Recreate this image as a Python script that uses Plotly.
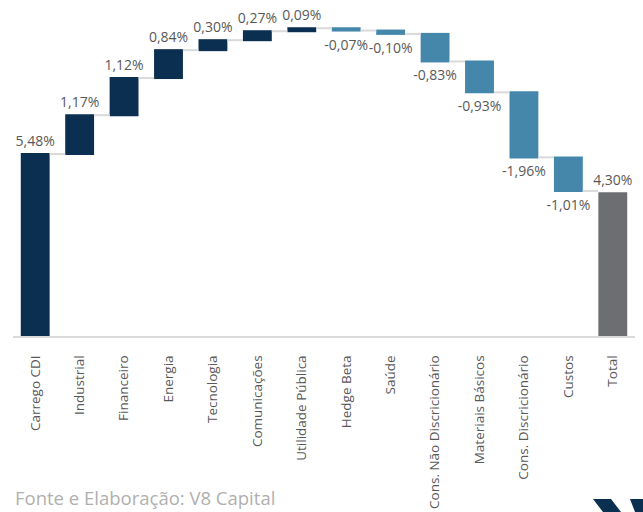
import plotly.graph_objects as go

categories = ["Carrego CDI", "Industrial", "Financeiro", "Energia", "Tecnologia",
              "Comunicações", "Utilidade Pública", "Hedge Beta", "Saúde",
              "Cons. Não Discricionário", "Materiais Básicos", "Cons. Discricionário",
              "Custos", "Total"]
values = [5.48, 1.17, 1.12, 0.84, 0.30, 0.27, 0.09, -0.07, -0.10, -0.83, -0.93, -1.96, -1.01, 4.30]
measures = ["relative"] * 13 + ["absolute"]
labels = ["5,48%", "1,17%", "1,12%", "0,84%", "0,30%", "0,27%", "0,09%", "-0,07%",
          "-0,10%", "-0,83%", "-0,93%", "-1,96%", "-1,01%", "4,30%"]

fig = go.Figure(go.Waterfall(
    x=categories,
    y=values,
    measure=measures,
    text=labels,
    textposition="outside",
    constraintext="none",
    textfont=dict(family="Open Sans", size=14, color="#595959"),
    cliponaxis=False,
    increasing=dict(marker=dict(color="#0b2f50")),
    decreasing=dict(marker=dict(color="#4587ab")),
    totals=dict(marker=dict(color="#6d6e71")),
    connector=dict(line=dict(color="#d9d9d9", width=2)),
    width=0.65,
    hoverinfo="skip",
))

fig.update_layout(
    width=643, height=512,
    margin=dict(l=13, r=8, t=4, b=176),
    plot_bgcolor="white", paper_bgcolor="white",
    showlegend=False,
    xaxis=dict(
        tickangle=-90,
        tickfont=dict(family="Open Sans", size=13.5, color="#595959"),
        showline=True, linecolor="#d9d9d9", linewidth=2,
        ticks="outside", ticklen=12, tickcolor="rgba(0,0,0,0)",
        showgrid=False, fixedrange=True, automargin=False,
    ),
    yaxis=dict(range=[0, 10], visible=False, showgrid=False, zeroline=False,
               automargin=False, fixedrange=True),
    annotations=[dict(
        text="Fonte e Elaboração: V8 Capital", xref="paper", yref="paper",
        x=0, y=(336 - 497) / 332, xanchor="left", yanchor="middle",
        showarrow=False, font=dict(family="Open Sans", size=18.5, color="#b0b0b0"),
    )],
)

# logo fragments bottom-right (in pixel-mapped paper coords)
def px(xp, yp):
    return (xp - 13) / 622, (336 - yp) / 332

def path(pts):
    s = ""
    for i, (a, b) in enumerate(pts):
        X, Y = px(a, b)
        s += ("M" if i == 0 else "L") + f"{X:.5f},{Y:.5f} "
    return s + "Z"

fig.add_shape(type="path", xref="paper", yref="paper",
              path=path([(593, 499), (611, 499), (621, 512), (603, 512)]),
              fillcolor="#0b2f50", line=dict(width=0), layer="above")
fig.add_shape(type="path", xref="paper", yref="paper",
              path=path([(630, 499), (643, 499), (643, 512), (635, 512)]),
              fillcolor="#0b2f50", line=dict(width=0), layer="above")

fig.write_html("out.html", config={"displayModeBar": False},
               post_script="document.body.style.margin='0';document.body.style.overflow='hidden';")
